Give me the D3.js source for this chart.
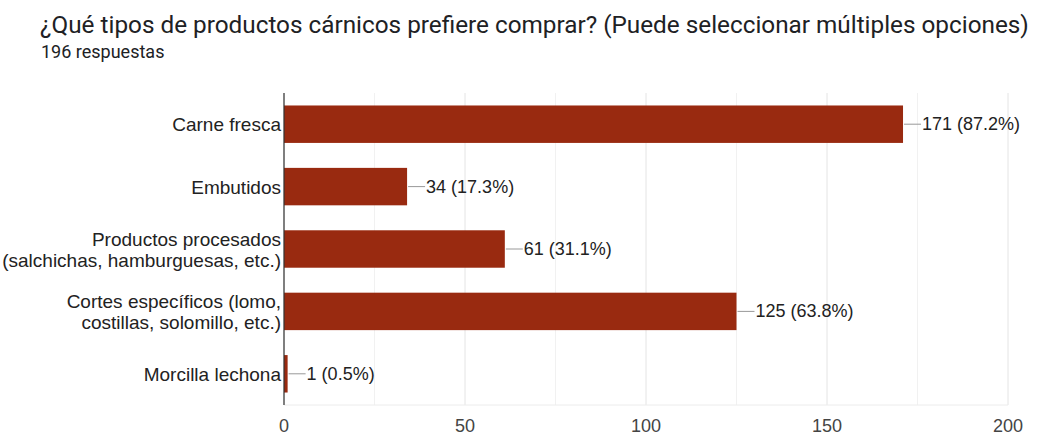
<!DOCTYPE html>
<html lang="es">
  <head>
    <meta charset="UTF-8" />
    <title>Productos cárnicos</title>
    <style>
      body {
        margin: 0;
        background: #fff;
      }
      svg {
        display: block;
      }
      .title {
        font-family: Roboto, sans-serif;
      }
      .chart text {
        font-family: "Liberation Sans", Arial, sans-serif;
      }
    </style>
  </head>
  <body>
    <script src="https://cdn.jsdelivr.net/npm/d3@7"></script>
    <script>
      // data
      var categories = [
        ["Carne fresca"],
        ["Embutidos"],
        ["Productos procesados", "(salchichas, hamburguesas, etc.)"],
        ["Cortes específicos (lomo,", "costillas, solomillo, etc.)"],
        ["Morcilla lechona"]
      ];
      var counts = [171, 34, 61, 125, 1];
      var percents = ["87.2%", "17.3%", "31.1%", "63.8%", "0.5%"];
      var xTicks = [0, 50, 100, 150, 200];
      var gridTicks = [0, 25, 50, 75, 100, 125, 150, 175, 200];

      var width = 1038, height = 436;
      // plot box (window.top is read-only, so prefixed names)
      var plotLeft = 284, plotRight = 1008, plotTop = 93, plotBottom = 405;

      var svg = d3.select("body").append("svg")
        .attr("width", width)
        .attr("height", height);

      svg.append("text").attr("class", "title")
        .attr("x", 40).attr("y", 33)
        .style("font-size", "24.3px").style("fill", "#202124")
        .text("¿Qué tipos de productos cárnicos prefiere comprar? (Puede seleccionar múltiples opciones)");
      svg.append("text").attr("class", "title")
        .attr("x", 41).attr("y", 58)
        .style("font-size", "18px").style("fill", "#202124")
        .text("196 respuestas");

      var x = d3.scaleLinear().domain([0, 200]).range([plotLeft, plotRight]);
      var y = d3.scaleBand().domain(d3.range(counts.length))
        .range([plotTop, plotBottom]).paddingInner(0.4).paddingOuter(0.2);

      var g = svg.append("g").attr("class", "chart");

      g.selectAll("line.grid").data(gridTicks).enter().append("line")
        .attr("class", "grid")
        .attr("x1", function(d) { return x(d); }).attr("x2", function(d) { return x(d); })
        .attr("y1", plotTop).attr("y2", plotBottom)
        .style("stroke", function(d) { return d % 50 === 0 ? "#e4e4e4" : "#f1f1f1"; })
        .style("stroke-width", 1);

      g.append("line")
        .attr("x1", plotLeft).attr("x2", plotRight).attr("y1", plotBottom).attr("y2", plotBottom)
        .style("stroke", "#ececec");

      g.selectAll("rect.bar").data(counts).enter().append("rect")
        .attr("class", "bar")
        .attr("x", x(0))
        .attr("y", function(d, i) { return y(i); })
        .attr("width", function(d) { return x(d) - x(0); })
        .attr("height", y.bandwidth())
        .style("fill", "#992a10");

      // connector + value label
      g.selectAll("line.conn").data(counts).enter().append("line")
        .attr("class", "conn")
        .attr("x1", function(d) { return x(d) + 1; })
        .attr("x2", function(d) { return x(d) + 18; })
        .attr("y1", function(d, i) { return y(i) + y.bandwidth() / 2; })
        .attr("y2", function(d, i) { return y(i) + y.bandwidth() / 2; })
        .style("stroke", "#999").style("stroke-width", 1);

      g.selectAll("text.val").data(counts).enter().append("text")
        .attr("class", "val")
        .attr("x", function(d) { return x(d) + 19; })
        .attr("y", function(d, i) { return y(i) + y.bandwidth() / 2 + 6; })
        .style("font-size", "18px").style("fill", "#222")
        .text(function(d, i) { return d + " (" + percents[i] + ")"; });

      // zero axis line
      g.append("line")
        .attr("x1", plotLeft).attr("x2", plotLeft).attr("y1", plotTop).attr("y2", plotBottom)
        .style("stroke", "#333").style("stroke-width", 1.2);

      // category labels
      var labels = g.selectAll("text.cat").data(categories).enter().append("text")
        .attr("class", "cat")
        .attr("text-anchor", "end")
        .style("font-size", "19px").style("fill", "#222")
        .attr("transform", function(d, i) {
          var cy = y(i) + y.bandwidth() / 2;
          return "translate(" + (plotLeft - 3) + "," + (cy + 7 - (d.length - 1) * 10.5) + ")";
        });
      labels.selectAll("tspan").data(function(d) { return d; }).enter().append("tspan")
        .attr("x", 0)
        .attr("dy", function(d, i) { return i === 0 ? 0 : 21; })
        .text(function(d) { return d; });

      g.selectAll("text.tick").data(xTicks).enter().append("text")
        .attr("class", "tick")
        .attr("x", function(d) { return x(d); })
        .attr("y", 432)
        .attr("text-anchor", "middle")
        .style("font-size", "18px").style("fill", "#444")
        .text(function(d) { return d; });
    </script>
  </body>
</html>
